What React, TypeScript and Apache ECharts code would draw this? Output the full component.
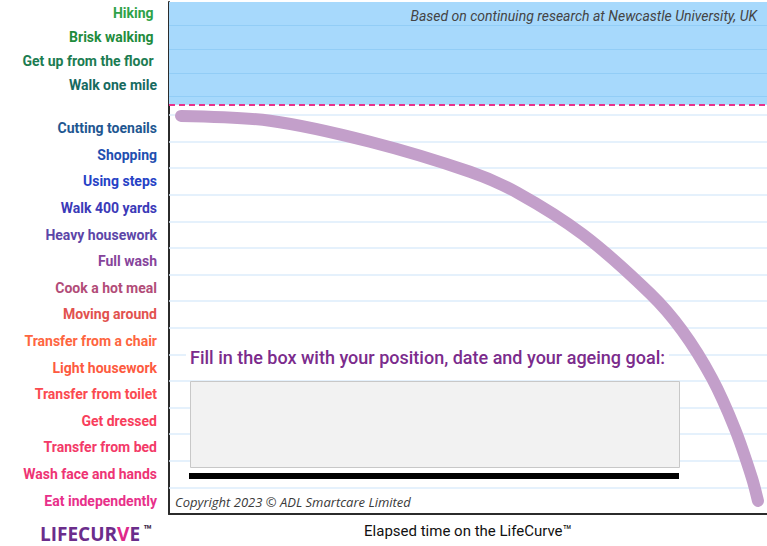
import React, { useEffect, useRef } from "react";
import * as echarts from "echarts";

// Activities from bottom (lost last) to top
const lowerActivities = [
  "Eat independently",
  "Wash face and hands",
  "Transfer from bed",
  "Get dressed",
  "Transfer from toilet",
  "Light housework",
  "Transfer from a chair",
  "Moving around",
  "Cook a hot meal",
  "Full wash",
  "Heavy housework",
  "Walk 400 yards",
  "Using steps",
  "Shopping",
  "Cutting toenails",
];
const lowerLevels = [0.5, 1.5, 2.5, 3.5, 4.5, 5.5, 6.5, 7.5, 8.5, 9.5, 10.5, 11.5, 12.5, 13.5, 14.5];
const lowerColors = [
  "#e8308a", "#ee3474", "#f33a68", "#f83e5c", "#fb4a50", "#fd5a40", "#fe6540", "#e2524f",
  "#b24c78", "#86449b", "#5c46a8", "#3b3ab8", "#2642c6", "#1f4fb0", "#1f5791",
];
const upperActivities = ["Walk one mile", "Get up from the floor ", "Brisk walking ", "Hiking "];
const upperLevels = [16.125, 17.025, 17.925, 18.825];
const upperColors = ["#166a60", "#1c7c52", "#1f8c3d", "#2ea248"];

const lowerGridLines = [1, 2, 3, 4, 5, 6, 7, 8, 9, 10, 11, 12, 13, 14, 15];
const upperGridLines = [15.675, 16.575, 17.475, 18.375];
const bandFloor = 15.375;
const yMax = 19.24;

// The LifeCurve (elapsed time 0-100, ability level in rows)
const curveX = [2.01, 16.89, 33.61, 50.33, 58.19, 69.23, 80.43, 85.79, 90.8, 94.65, 97.49, 98.49];
const curveY = [14.96, 14.78, 13.99, 12.86, 12.08, 10.5, 8.29, 6.9, 5.1, 3.19, 1.35, 0.49];

const xAxisTitle = "Elapsed time on the LifeCurve\u2122";
const sourceNote = "Based on continuing research at Newcastle University, UK";
const boxPrompt = "Fill in the box with your position, date and your ageing goal:";
const copyright = "Copyright 2023 \u00a9 ADL Smartcare Limited";

export default function App() {
  const ref = useRef<HTMLDivElement>(null);

  useEffect(() => {
    if (!ref.current) return;
    const chart = echarts.init(ref.current, null, { renderer: "svg" });

    const labelMap: Record<string, { name: string; color: string }> = {};
    lowerLevels.forEach((v, i) => {
      labelMap[v.toFixed(3)] = { name: lowerActivities[i], color: lowerColors[i] };
    });
    upperLevels.forEach((v, i) => {
      labelMap[v.toFixed(3)] = { name: upperActivities[i], color: upperColors[i] };
    });
    const key = (v: any) => Number(v).toFixed(3);

    const option: any = {
      animation: false,
      backgroundColor: "#ffffff",
      grid: {
        left: 169,
        right: 0,
        top: 2,
        bottom: 32,
        containLabel: false,
        outerBoundsMode: "none",
      },
      xAxis: {
        type: "value",
        min: 0,
        max: 100,
        name: xAxisTitle,
        nameLocation: "middle",
        nameGap: 9,
        nameTextStyle: { fontFamily: "Roboto", fontSize: 15, color: "#111" },
        axisLine: { show: true, lineStyle: { color: "#2b2b2b", width: 2 } },
        axisTick: { show: false },
        axisLabel: { show: false },
        splitLine: { show: false },
      },
      yAxis: {
        type: "value",
        min: 0,
        max: yMax,
        axisLine: { show: true, lineStyle: { color: "#2b2b2b", width: 2 } },
        axisTick: { show: false },
        splitLine: { show: false },
        axisLabel: {
          customValues: [...lowerLevels, ...upperLevels],
          margin: 12,
          fontFamily: "Roboto",
          fontSize: 14,
          fontWeight: "bold",
          formatter: (v: any) => (labelMap[key(v)] ? labelMap[key(v)].name : ""),
          color: (v: any) => (labelMap[key(v)] ? labelMap[key(v)].color : "#333"),
        },
      },
      series: [
        {
          type: "line",
          data: [],
          z: 1,
          silent: true,
          markArea: {
            silent: true,
            itemStyle: { color: "#a7d9fc" },
            data: [[{ yAxis: bandFloor }, { yAxis: yMax }]],
          },
          markLine: {
            silent: true,
            symbol: ["none", "none"],
            label: { show: false },
            data: [
              ...lowerGridLines.map((v) => ({
                yAxis: v,
                lineStyle: { color: "#dcedfb", width: 1.5, type: "solid" },
              })),
              ...upperGridLines.map((v) => ({
                yAxis: v,
                lineStyle: { color: "#92cdf6", width: 1.2, type: "solid" },
              })),
              {
                yAxis: bandFloor,
                lineStyle: { color: "#e8338a", width: 2, type: [6, 4] },
              },
            ],
          },
        },
        {
          type: "line",
          z: 5,
          smooth: 0.3,
          symbol: "none",
          silent: true,
          clip: false,
          lineStyle: { color: "#c39fca", width: 12, cap: "round", join: "round" },
          data: curveX.map((x, i) => [x, curveY[i]]),
        },
      ],
      graphic: [
        {
          type: "text",
          z: 100,
          x: 757,
          y: 16,
          style: {
            text: sourceNote,
            align: "right",
            verticalAlign: "middle",
            font: "italic 14px Roboto",
            fill: "#444",
          },
        },
        {
          type: "text",
          z: 100,
          x: 186,
          y: 357,
          style: {
            text: boxPrompt,
            align: "left",
            verticalAlign: "middle",
            font: "500 18px Roboto",
            fill: "#7b2b8c",
            backgroundColor: "#ffffff",
            padding: [3, 4, 3, 4],
          },
        },
        {
          type: "rect",
          z: 100,
          shape: { x: 190.5, y: 381.5, width: 489, height: 86 },
          style: { fill: "#f2f2f2", stroke: "#c8c8c8", lineWidth: 1 },
        },
        {
          type: "rect",
          z: 100,
          shape: { x: 189, y: 473, width: 490, height: 6 },
          style: { fill: "#000000" },
        },
        {
          type: "text",
          z: 100,
          x: 175,
          y: 502,
          style: {
            text: copyright,
            align: "left",
            verticalAlign: "middle",
            font: "italic 13px 'Open Sans'",
            fill: "#3a3a3a",
          },
        },
        {
          type: "text",
          z: 100,
          x: 40,
          y: 534,
          style: {
            text: "{a|LIFECUR}{b|V}{a|E}",
            verticalAlign: "middle",
            rich: {
              a: { font: "bold 19px 'Open Sans'", fill: "#6b2d8b", lineHeight: 19 },
              b: { font: "bold 19px 'Open Sans'", fill: "#e0288a", lineHeight: 19 },
            },
          },
        },
        {
          type: "text",
          z: 100,
          x: 143,
          y: 530,
          style: {
            text: "\u2122",
            verticalAlign: "middle",
            font: "bold 14px Roboto",
            fill: "#3b2a4a",
          },
        },
      ],
    };

    chart.setOption(option);
    return () => chart.dispose();
  }, []);

  return (
    <div
      ref={ref}
      style={{ position: "absolute", left: 0, top: 0, width: 767, height: 546 }}
    />
  );
}
